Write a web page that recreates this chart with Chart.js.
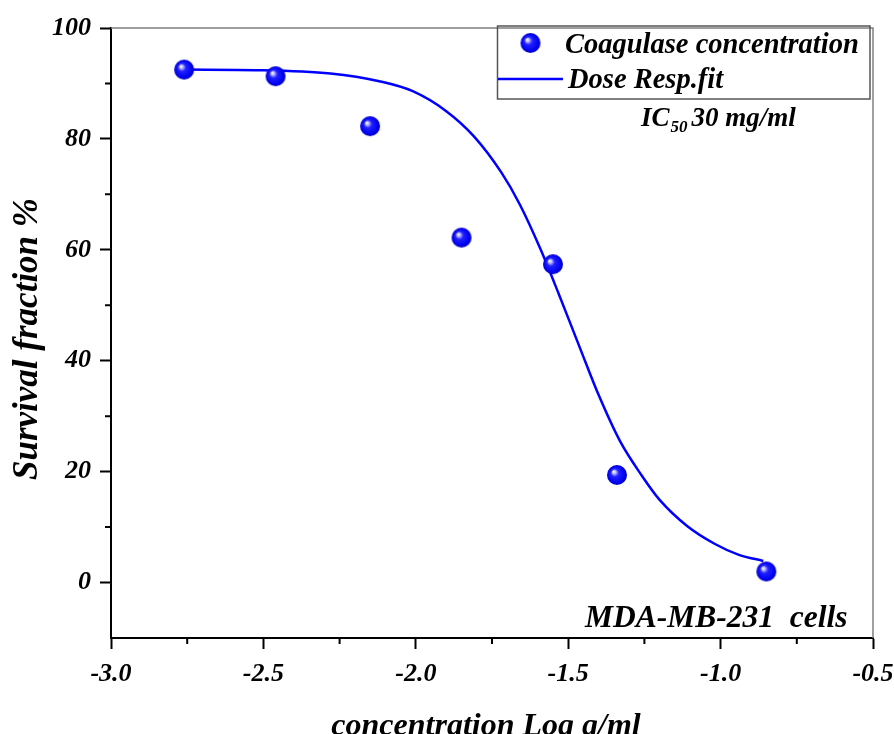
<!DOCTYPE html>
<html>
<head>
<meta charset="utf-8">
<script src="https://cdn.jsdelivr.net/npm/chart.js@4.4.1/dist/chart.umd.min.js"></script>
<style>
  html, body { margin: 0; padding: 0; background: #fff; }
</style>
</head>
<body>
<canvas id="myChart" width="894" height="734"></canvas>
<script>
// measured points
var concLog = [-2.76, -2.46, -2.15, -1.85, -1.55, -1.34, -0.85];
var survival = [92.5, 91.3, 82.3, 62.2, 57.4, 19.4, 2.0];

// dose response fit line
var fitX = [-2.76, -2.51, -2.28, -2.12, -2.01, -1.90, -1.81, -1.72, -1.66, -1.59, -1.53, -1.46, -1.40, -1.33, -1.26, -1.20, -1.11, -1.02, -0.94, -0.86];
var fitY = [92.5, 92.4, 91.8, 90.4, 88.6, 85.0, 80.5, 74.0, 68.3, 60.0, 51.9, 42.1, 33.8, 25.5, 19.4, 14.9, 10.2, 7.0, 5.0, 3.9];

var seriesLabels = ["Coagulase concentration", "Dose Resp.fit"];
var xTitle = "concentration Log g/ml";
var yTitle = "Survival fraction %";
var cellLine = "MDA-MB-231  cells";

var FONT = "Liberation Serif";
var BLUE = "#0000ff";

function bi(size) {
  return "italic bold " + size + "px '" + FONT + "'";
}

// shiny blue ball used as marker
function makeBall(r) {
  var c = document.createElement("canvas");
  c.width = c.height = 2 * r + 2;
  var g = c.getContext("2d");
  var m = r + 1;
  var grad = g.createRadialGradient(m - r * 0.35, m - r * 0.35, 0, m, m, r);
  grad.addColorStop(0, "#ffffff");
  grad.addColorStop(0.15, "#c8c8ff");
  grad.addColorStop(0.4, "#2020ff");
  grad.addColorStop(0.85, "#0000f0");
  grad.addColorStop(1, "#0000b8");
  g.fillStyle = grad;
  g.beginPath();
  g.arc(m, m, r, 0, Math.PI * 2);
  g.fill();
  return c;
}
var ball = makeBall(10);

var pts = concLog.map(function(x, i) { return { x: x, y: survival[i] }; });
var fit = fitX.map(function(x, i) { return { x: x, y: fitY[i] }; });

var decor = {
  id: "decor",
  afterDraw: function(chart) {
    var ctx = chart.ctx;
    var a = chart.chartArea;
    var xs = chart.scales.x, ys = chart.scales.y;
    ctx.save();

    // top / right frame
    ctx.strokeStyle = "#808080";
    ctx.lineWidth = 1.5;
    ctx.beginPath();
    ctx.moveTo(a.left, a.top);
    ctx.lineTo(a.right, a.top);
    ctx.lineTo(a.right, a.bottom);
    ctx.stroke();

    // minor ticks
    ctx.strokeStyle = "#000";
    ctx.lineWidth = 2;
    ctx.beginPath();
    [10, 30, 50, 70, 90].forEach(function(v) {
      var y = ys.getPixelForValue(v);
      ctx.moveTo(a.left - 6, y);
      ctx.lineTo(a.left, y);
    });
    [-2.75, -2.25, -1.75, -1.25, -0.75].forEach(function(v) {
      var x = xs.getPixelForValue(v);
      ctx.moveTo(x, a.bottom);
      ctx.lineTo(x, a.bottom + 6);
    });
    ctx.stroke();

    ctx.fillStyle = "#000";
    // axis titles
    ctx.font = bi(32);
    ctx.textAlign = "center";
    ctx.textBaseline = "alphabetic";
    ctx.fillText(xTitle, 486, 735);

    ctx.save();
    ctx.translate(37, 339);
    ctx.rotate(-Math.PI / 2);
    ctx.font = bi(35);
    ctx.fillText(yTitle, 0, 0);
    ctx.restore();

    // cell line note
    ctx.textAlign = "left";
    ctx.font = bi(31.5);
    ctx.fillText(cellLine, 585, 627);

    // IC50 note
    ctx.font = bi(27);
    ctx.fillText("IC", 641, 126);
    var w = ctx.measureText("IC").width;
    ctx.font = bi(17);
    ctx.fillText("50", 641 + w + 1, 132);
    var w2 = ctx.measureText("50").width;
    ctx.font = bi(27);
    ctx.fillText("30 mg/ml", 641 + w + w2 + 5, 126);

    // legend box
    ctx.strokeStyle = "#555";
    ctx.lineWidth = 1.5;
    ctx.strokeRect(497.5, 26, 372.5, 73);
    ctx.drawImage(ball, 530 - ball.width / 2 + 0.5, 43 - ball.height / 2);
    ctx.strokeStyle = BLUE;
    ctx.lineWidth = 2.5;
    ctx.beginPath();
    ctx.moveTo(498, 79);
    ctx.lineTo(563, 79);
    ctx.stroke();
    ctx.font = bi(28.5);
    ctx.fillStyle = "#000";
    ctx.fillText(chart.data.datasets[0].label, 565, 53);
    ctx.fillText(chart.data.datasets[1].label, 568, 88);

    ctx.restore();
  }
};

var ctx = document.getElementById("myChart");
new Chart(ctx, {
  type: "scatter",
  data: {
    datasets: [{
      label: seriesLabels[0],
      data: pts,
      pointStyle: ball,
      pointRadius: 10,
      order: 0
    }, {
      label: seriesLabels[1],
      data: fit,
      showLine: true,
      borderColor: BLUE,
      borderWidth: 2.5,
      pointRadius: 0,
      cubicInterpolationMode: "monotone",
      fill: false,
      order: 1
    }]
  },
  options: {
    responsive: false,
    animation: false,
    events: [],
    layout: { padding: { left: 0, top: 28, right: 21, bottom: 0 } },
    plugins: {
      legend: { display: false },
      tooltip: { enabled: false }
    },
    scales: {
      x: {
        type: "linear",
        min: -3,
        max: -0.5,
        afterFit: function(s) {
          s.height = 96;
          s.paddingLeft = 0;
          s.paddingRight = 0;
        },
        border: { display: true, color: "#000", width: 2 },
        grid: {
          drawOnChartArea: false,
          tickLength: 11,
          tickWidth: 2,
          tickColor: function(c) {
            return Math.abs(Math.round(c.tick.value * 4)) % 2 === 0 ? "#000" : "rgba(0,0,0,0)";
          }
        },
        ticks: {
          stepSize: 0.25,
          autoSkip: false,
          maxRotation: 0,
          padding: 10,
          color: "#000",
          font: { family: FONT, size: 26, style: "italic", weight: "bold" },
          callback: function(v) {
            return Math.abs(Math.round(v * 4)) % 2 === 0 ? v.toFixed(1) : "";
          }
        }
      },
      y: {
        min: -10,
        max: 100,
        afterFit: function(s) {
          s.width = 111;
          s.paddingTop = 0;
          s.paddingBottom = 0;
        },
        border: { display: true, color: "#000", width: 2 },
        grid: {
          drawOnChartArea: false,
          tickLength: 11,
          tickWidth: 2,
          tickColor: function(c) {
            return c.tick.value % 20 === 0 ? "#000" : "rgba(0,0,0,0)";
          }
        },
        ticks: {
          stepSize: 10,
          autoSkip: false,
          padding: 9,
          color: "#000",
          font: { family: FONT, size: 26, style: "italic", weight: "bold" },
          callback: function(v) {
            return v % 20 === 0 ? v : "";
          }
        }
      }
    }
  },
  plugins: [decor]
});
</script>
</body>
</html>
